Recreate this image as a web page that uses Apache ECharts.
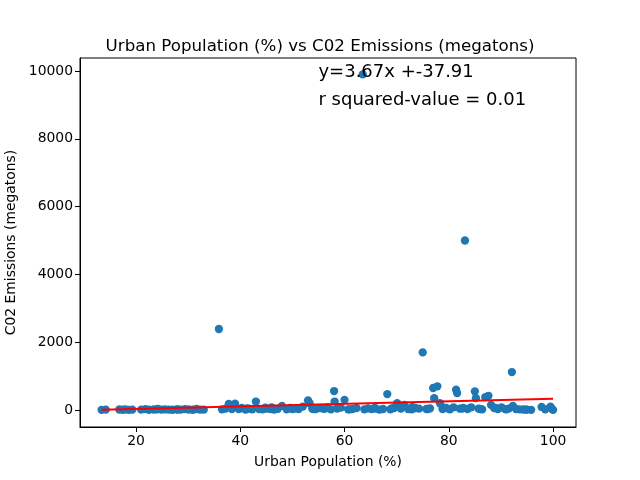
<!DOCTYPE html>
<html>
<head>
<meta charset="utf-8">
<script src="https://cdn.jsdelivr.net/npm/echarts@6/dist/echarts.min.js"></script>
<style>html,body{margin:0;padding:0;background:#fff}#c{width:640px;height:480px}</style>
</head>
<body>
<div id="c"></div>
<script>
var urbanPct = [13.4,14.2,16.8,17.5,18.0,18.6,19.3,21.0,21.8,22.5,23.4,24.2,24.9,25.6,26.3,27.0,27.8,28.6,29.4,30.1,30.9,31.6,32.3,
  35.9,36.5,37.2,37.8,38.4,39.0,39.7,40.3,41.0,41.6,42.3,43.0,43.6,44.3,45.0,45.8,46.5,47.2,48.0,48.9,49.6,50.4,51.2,52.0,53.0,53.3,53.8,54.5,55.3,56.0,56.7,57.4,58.0,58.1,58.6,59.3,60.0,60.7,61.5,62.3,
  63.5,63.8,64.5,65.2,66.0,66.7,67.4,68.2,68.8,69.5,70.1,70.8,71.5,72.2,72.9,73.6,74.3,75.0,75.7,76.4,77.0,77.2,77.8,78.3,78.8,79.5,80.2,80.9,81.4,81.6,82.1,82.8,83.1,83.6,84.3,85.0,85.2,85.7,86.4,87.0,87.6,88.1,88.7,89.4,90.1,90.8,91.5,92.1,92.3,92.9,93.6,94.3,95.0,95.8,97.8,98.5,99.5,99.8,100.0,
  24.0,28.0,33.0,44.8,50.0,56.3,61.0,65.8,69.0,73.0,76.0,79.0,82.5,86.0,89.0,91.0,94.8,41.3,46.0,54.0];
var co2Mt = [5,10,15,8,20,5,12,10,25,8,15,30,10,20,12,8,18,10,25,15,8,30,12,
  2390,20,40,180,30,190,25,60,15,40,20,250,30,18,40,25,10,35,120,20,60,45,30,100,280,200,40,25,60,35,80,20,560,250,40,70,300,20,30,60,
  9900,20,50,25,40,10,30,470,20,60,200,40,150,30,20,60,40,1700,30,50,650,350,700,200,30,60,20,80,600,500,40,60,5000,30,80,550,350,40,20,380,420,150,60,30,80,25,40,1120,120,30,20,15,10,5,90,20,100,30,5,
  20,15,10,70,30,40,20,60,50,90,30,70,40,30,60,20,10,50,80,30];
var fitX = [13.4, 100.0];
var fitY = [11.3, 329.1];
var xTicks = [20,40,60,80,100];
var yTicks = [0,2000,4000,6000,8000,10000];
var titleText = 'Urban Population (%) vs C02 Emissions (megatons)';
var eqText = 'y=3.67x +-37.91';
var r2Text = 'r squared-value = 0.01';
var eqPos = [55, 9800];
var r2Pos = [55, 9000];

var pts = urbanPct.map(function(x,i){return [x, co2Mt[i]];});
var fit = fitX.map(function(x,i){return [x, fitY[i]];});
var F = 'DejaVu Sans';
var chart = echarts.init(document.getElementById('c'), null, {renderer:'canvas'});
chart.setOption({
  animation:false,
  backgroundColor:'#fff',
  title:{text:titleText,left:'center',top:33,textStyle:{fontFamily:F,fontSize:16.67,fontWeight:'normal',color:'#000'}},
  grid:{left:80,right:64,top:58,bottom:53,outerBoundsMode:'none',containLabel:false,show:true,borderColor:'#000',borderWidth:1,backgroundColor:'transparent'},
  xAxis:{type:'value',min:9.26,max:104.4,
    name:'Urban Population (%)',nameLocation:'middle',nameGap:28,
    nameTextStyle:{fontFamily:F,fontSize:13.9,color:'#000'},
    axisLine:{show:true,onZero:false,lineStyle:{color:'#000',width:1}},
    axisTick:{show:true,length:5,customValues:xTicks,lineStyle:{color:'#000'}},
    axisLabel:{customValues:xTicks,fontFamily:F,fontSize:13.9,color:'#000',margin:7,formatter:function(v){return String(v);}},
    splitLine:{show:false}},
  yAxis:{type:'value',min:-501,max:10383,
    name:'C02 Emissions (megatons)',nameLocation:'middle',nameGap:62,
    nameTextStyle:{fontFamily:F,fontSize:13.9,color:'#000'},
    axisLine:{show:true,onZero:false,lineStyle:{color:'#000',width:1}},
    axisTick:{show:true,length:5,customValues:yTicks,lineStyle:{color:'#000'}},
    axisLabel:{customValues:yTicks,fontFamily:F,fontSize:13.9,color:'#000',margin:7,formatter:function(v){return String(v);}},
    splitLine:{show:false}},
  series:[
    {type:'scatter',data:pts,symbolSize:8.3,itemStyle:{color:'#1f77b4',opacity:1},z:2},
    {type:'line',data:fit,symbol:'none',lineStyle:{color:'#ff0000',width:2},z:3}
  ]
});
function place(){
  var a = chart.convertToPixel({gridIndex:0}, eqPos);
  var b = chart.convertToPixel({gridIndex:0}, r2Pos);
  chart.setOption({graphic:[
    {type:'text',x:a[0],y:a[1]+4,z:10,style:{text:eqText,fontFamily:F,fontSize:18,fill:'#000',verticalAlign:'bottom'}},
    {type:'text',x:b[0],y:b[1]+4,z:10,style:{text:r2Text,fontFamily:F,fontSize:18,fill:'#000',verticalAlign:'bottom'}}
  ]});
}
place();
</script>
</body>
</html>
